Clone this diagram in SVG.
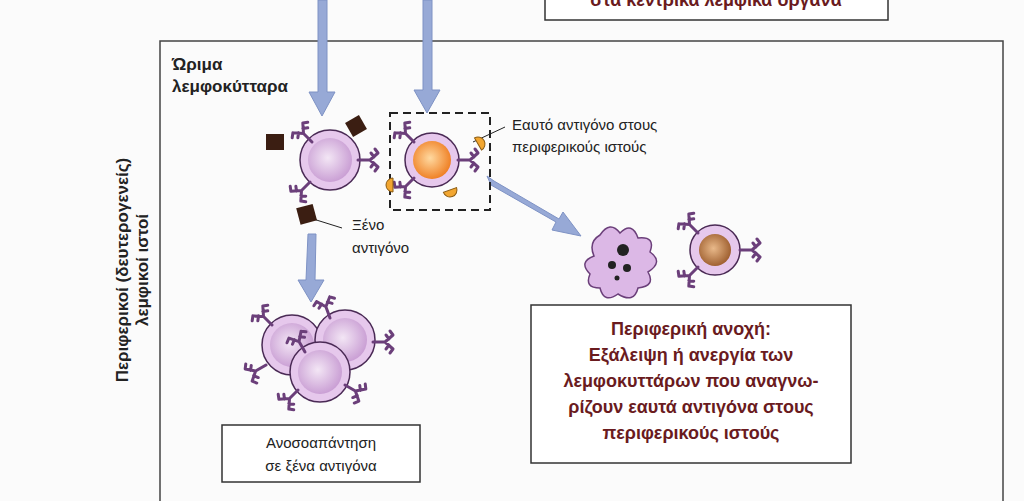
<svg xmlns="http://www.w3.org/2000/svg" width="1024" height="501" viewBox="0 0 1024 501">
<defs>
<style>
.t{font-family:"Liberation Sans",Arial,sans-serif;font-size:15px;fill:#222}
.b{font-family:"Liberation Sans",Arial,sans-serif;font-size:18px;font-weight:bold;fill:#6a1b1e}
.k{font-family:"Liberation Sans",Arial,sans-serif;font-size:17px;font-weight:bold;fill:#222}
.ab{fill:none;stroke:#6b3f7a;stroke-width:3;stroke-linecap:round;stroke-linejoin:round}
.box{fill:#fff;stroke:#333;stroke-width:1.5}
.arr{fill:#97a9d6;stroke:#7e92c4;stroke-width:1}
.ag{fill:#f2a630;stroke:#8a5a10;stroke-width:1}
</style>
<radialGradient id="gp" cx="0.45" cy="0.45" r="0.6"><stop offset="0" stop-color="#f3e6f5"/><stop offset="1" stop-color="#c79ad2"/></radialGradient>
<radialGradient id="go" cx="0.45" cy="0.45" r="0.6"><stop offset="0" stop-color="#ffd9a0"/><stop offset="1" stop-color="#ee7a1c"/></radialGradient>
<radialGradient id="gb" cx="0.45" cy="0.45" r="0.6"><stop offset="0" stop-color="#e9b98a"/><stop offset="1" stop-color="#9a5a2a"/></radialGradient>
<g id="Y"><path class="ab" d="M0 0 L0 -12 M0 -12 L-7 -20 M0 -12 L7 -20 M-7 -20 L-11 -17 M7 -20 L11 -17 M-3 -16 L-7 -13 M3 -16 L7 -13"/></g>
<g id="cell"><circle r="30" fill="#e6c8ec" stroke="#4a2a55" stroke-width="1.5"/><circle r="22" fill="url(#gp)"/></g>
<path id="half" d="M-7 0 A7 7 0 0 0 7 0 Z" class="ag"/>
</defs>
<rect width="1024" height="501" fill="#fbfbfb"/>
<g id="top-box"><rect x="545" y="-20" width="343" height="40" class="box"/><text x="716" y="6" text-anchor="middle" class="b">στα κεντρικά λεμφικά όργανα</text></g>
<rect x="160" y="41" width="843" height="470" fill="none" stroke="#444" stroke-width="1.5"/>
<text transform="translate(128,270) rotate(-90)" text-anchor="middle" class="k"><tspan x="0" y="0">Περιφερικοί (δευτερογενείς)</tspan><tspan x="0" y="20">λεμφικοί ιστοί</tspan></text>
<text x="172" y="70" class="k">Ώριμα</text><text x="172" y="92" class="k">λεμφοκύτταρα</text>
<g id="connectors">
<polygon class="arr" points="318,0 327,0 327,92 335,92 322,116 309,92 318,92"/>
<polygon class="arr" points="423,0 432,0 432,90 440,90 427,113 414,90 423,90"/>
<polygon class="arr" points="308,234 316,234 315,280 324,280 311,302 298,280 306,280"/>
<polygon class="arr" points="487,176 491,185 556,222 552,230 581,236 563,212 559,219 494,181"/>
<line x1="473" y1="142" x2="505" y2="127" stroke="#222" stroke-width="1"/>
<line x1="310" y1="218" x2="342" y2="228" stroke="#222" stroke-width="1"/>
</g>
<g id="foreign-cell">
<use href="#cell" transform="translate(330,160)"/>
<use href="#Y" transform="translate(312,142) rotate(-45)"/>
<use href="#Y" transform="translate(358,160) rotate(90)"/>
<use href="#Y" transform="translate(310,182) rotate(-135)"/>
<rect x="266" y="134" width="18" height="16" fill="#3b1e12"/>
<rect x="348" y="118" width="16" height="16" fill="#3b1e12" transform="rotate(-30 356 126)"/>
<rect x="298" y="206" width="17" height="17" fill="#3b1e12" transform="rotate(-15 306 214)"/>
</g>
<g id="self-cell">
<rect x="390" y="113" width="100" height="97" fill="none" stroke="#222" stroke-width="2" stroke-dasharray="8,5"/>
<circle cx="432" cy="160" r="27" fill="#e6c8ec" stroke="#4a2a55" stroke-width="1.5"/>
<circle cx="432" cy="160" r="19" fill="url(#go)"/>
<use href="#Y" transform="translate(414,142) rotate(-45)"/>
<use href="#Y" transform="translate(458,160) rotate(90)"/>
<use href="#Y" transform="translate(414,178) rotate(-135)"/>
<use href="#half" transform="translate(478,144) rotate(-120)"/>
<use href="#half" transform="translate(393,185) rotate(90)"/>
<use href="#half" transform="translate(450,190) rotate(-20)"/>
</g>
<text x="352" y="230" class="t">Ξένο</text><text x="352" y="253" class="t">αντιγόνο</text>
<text x="512" y="130" class="t">Εαυτό αντιγόνο στους</text><text x="512" y="152" class="t">περιφερικούς ιστούς</text>
<g id="clone">
<use href="#cell" transform="translate(292,345)"/>
<use href="#Y" transform="translate(272,325) rotate(-45)"/>
<use href="#Y" transform="translate(266,365) rotate(-120)"/>
<use href="#cell" transform="translate(345,340)"/>
<use href="#Y" transform="translate(330,318) rotate(-20)"/>
<use href="#Y" transform="translate(373,342) rotate(90)"/>
<use href="#cell" transform="translate(320,372)"/>
<use href="#Y" transform="translate(298,390) rotate(-135)"/>
<use href="#Y" transform="translate(345,385) rotate(120)"/>
<use href="#Y" transform="translate(305,352) rotate(-30)"/>
</g>
<g id="tolerance">
<path d="M600 235 q10 -15 20 -2 q12 -12 18 5 q18 -2 12 14 q14 10 -2 20 q8 14 -10 16 q-4 16 -20 6 q-14 10 -18 -6 q-16 0 -10 -14 q-12 -12 4 -18 q-6 -14 6 -21z" fill="#dcb8e6" stroke="#6b3f7a" stroke-width="1.5"/>
<circle cx="623" cy="250" r="6" fill="#222"/><circle cx="612" cy="265" r="4" fill="#222"/><circle cx="627" cy="268" r="4" fill="#222"/><circle cx="617" cy="278" r="2.5" fill="#222"/>
<circle cx="715" cy="250" r="25" fill="#e6c8ec" stroke="#4a2a55" stroke-width="1.5"/>
<circle cx="715" cy="250" r="16" fill="url(#gb)"/>
<use href="#Y" transform="translate(698,233) rotate(-45)"/>
<use href="#Y" transform="translate(740,250) rotate(90)"/>
<use href="#Y" transform="translate(698,267) rotate(-135)"/>
</g>
<g id="box-response"><rect x="222" y="425" width="198" height="57" class="box"/><text x="321" y="448" text-anchor="middle" class="t">Ανοσοαπάντηση</text><text x="321" y="471" text-anchor="middle" class="t">σε ξένα αντιγόνα</text></g>
<g id="box-tolerance"><rect x="531" y="305" width="320" height="158" class="box"/>
<text text-anchor="middle" class="b"><tspan x="691" y="335">Περιφερική ανοχή:</tspan><tspan x="691" y="361">Εξάλειψη ή ανεργία των</tspan><tspan x="691" y="387">λεμφοκυττάρων που αναγνω-</tspan><tspan x="691" y="413">ρίζουν εαυτά αντιγόνα στους</tspan><tspan x="691" y="439">περιφερικούς ιστούς</tspan></text></g>
</svg>
